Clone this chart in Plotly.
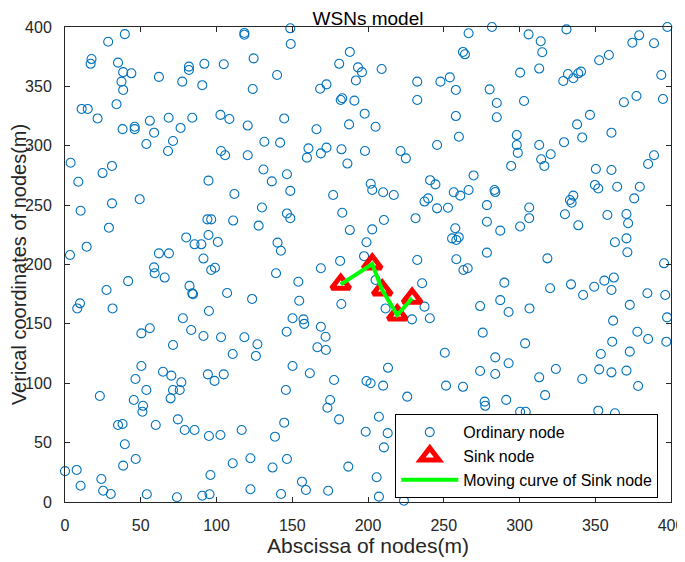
import plotly.graph_objects as go

ordinary = [
(39.5,394),(28.5,387.6),(17.5,373),(16.9,369),(35,370),(38.4,362),(43.8,361),(37.3,354),(38.4,347),(62,358),
(77.4,354),(81.8,366.6),(81.8,363.8),(92,369),(104.8,368.6),(90.6,351),(118.4,395),(118.4,393.5),(124.5,373.6),(123.9,347.8),
(34,335),(11,331),(15,331),(21.5,323),(38,314),(46,316),(46,314),(56,321),(58.8,311),(53.7,301.5),
(68.4,323.6),(76.3,315),(84,323.6),(71.3,304),(68,295.6),(102.6,326),(108.5,322.5),(120.6,317),(131.6,303.4),(103,295.6),
(105.7,292),(120.6,292),(3.7,285.7),(31,283),(24.8,277),(8.8,269.7),(94.7,270.6),(131,280),(136.5,270),
(148.7,398.9),(149,385.7),(188,379),(181,369),(193.4,366),(196,362),(192,355),(209,364.6),(140,359.6),(168.4,348),
(172.6,351.7),(183,340),(182,338.5),(191,338),(232.5,354),(232.5,338.5),(247.8,354),(254,357.6),(258,347),(262.7,379),
(264,377),(266.4,394.7),(144.7,323),(197.8,327),(187.5,318),(205,316),(166,313.9),(258,325),(260,307.6),(245.6,300.6),
(142,302.6),(160.7,297.8),(159.7,290),(168.9,293.6),(172.6,298.4),(182.5,297),(198,295.6),(186.4,285),(221.5,295.6),(225,289.4),
(146.5,276),(201.8,268),(241,271),(244.5,267.5),(269.7,275),
(281.8,400),(306,393.8),(331,398),(314,388),(315,378.7),(313,365),(300.4,361.6),(328.9,354.5),(332,360.4),(335.5,356.8),
(338.8,361),(340.6,362.4),(352.6,372),(359,376.4),(374.5,386.8),(379,393),(388.8,386.3),(397.6,400),(393.6,359.6),(394.7,339.4),
(377.2,341.9),(368.9,336.6),(280.3,347.5),(285,336),(285,324),(303,337.7),(346.5,326),(338,318),(341.4,307),(360.7,311),
(298.2,309),(298.2,300.6),(298.9,294),(313,300.6),(329.4,303),(320.6,292.8),(314.3,288.6),(316.4,283),(294.5,283),(350.4,280.4),
(360.7,279.6),(384.9,284.6),(388.8,292),
(111.8,259.4),(130,248),(49.3,255),(31,251.5),(10.3,245.3),(29,231),(94,238),(96.5,238),(111,237),(127.8,232.7),
(80,222.8),(94.7,224.8),(100.9,219),(85.5,217),(90,217),(91.4,205),(96.5,195.4),(99,197.3),(14.3,215),(3.3,208),
(62,209.4),(68.6,209.4),(58.8,197.6),(59.2,192.6),(65.8,189),(41.7,186),(27.4,178.5),(82.2,182),(84,175.7),(84.5,175),
(107,176),(123.5,171),(9.9,167.3),(8.1,163),(31.4,163),(95,160.8),(77.8,154.7),(83.3,144.8),(50.4,142),(56,146.3),
(91.4,139.8),(103,138.7),(118.4,138.7),(127,132.8),(71.3,132.2),
(126,123),(110.7,124.6),(50.4,114.5),(46.5,103.6),(53.7,94.3),(23,89.3),(45.4,85.9),(51.5,81),(51.1,76),(64.7,109.7),
(70.2,106.4),(76.8,100.8),(71.3,94.3),(75.7,94.3),(69.7,87.3),(94.3,107.5),(104.8,107.5),(98.7,102),(74.5,69.6),(79,60.6),
(85.5,60.6),(95,55.6),(102.6,56.4),(116.6,60.6),(59.9,64.8),(35,64.8),(38,65.7),(39.5,48.6),(46.7,36.2),(38.4,30.6),
(0,26),(7.7,27),(10.3,13.7),(24,19.4),(25.2,9.5),(30.2,6.7),(54,6.5),(73.9,4),(90.6,5.3),(95.4,6.5),
(96,22.7),(110.7,32.6),(122.4,36.8),(122.4,10.7),
(148.7,262),(177,258.5),(202.8,262.7),(210,260.8),(217,258.5),(237.3,253),(239.7,255.7),(245.6,247.3),(252.8,247.8),(256.6,260.8),
(260.9,258),(266.4,262.7),(146.5,243),(148.7,239),(183,243.6),(210.5,237.5),(231.4,239),(188,229),(202.8,229.6),(257.6,230.5),
(255.5,222),(258.3,220.6),(259.9,223),(140.3,218.4),(142.5,211.6),(199,218.7),(197.4,207),(181.6,203),(232.5,203.8),(258.3,204.4),
(263,195.4),(265.8,196.8),(139.3,192.6),(168.9,196.8),(154,185.5),(205,187),(235.7,184.2),(154.6,169.5),(182.4,166.7),(211.6,163),
(237.3,164.5),(150.2,154.7),(157.4,153.8),(157.9,150),(229,153.8),(240.8,154.7),(146.3,143.4),(168.9,147.6),(172,139.2),
(283.5,262.7),(284,261),(278.5,250),(278.5,236),(287.3,228.5),(300.4,232),(306.4,248),(306.4,239),(330,242.3),(333.3,254.3),
(335.5,258),(334.4,252),(338.8,233),(349.8,267),(352,264),(364.5,265.5),(379.4,265.5),(375.7,255.7),(358,241.7),(370.6,242.5),
(371.7,234.7),(363,218.7),(370.6,222),(371.2,210.3),(395.4,201),(278.5,210),(318.4,205.2),(290,184.7),(320.2,180),(334,183.3),
(342,174.3),(349.3,181.3),(356,186.4),(362.3,189),(360.7,178.5),(384.4,175.8),(396.2,174.3),(274,165),(287.3,170),(292.8,160),
(306.6,163),(372.8,166),(361.8,152.7),(397.4,155.5),(377.8,143.4),(384.9,137.3),(275.7,142.6),(303.7,133.6),(361.2,135),(396.9,135),
(166.6,130.3),(172.2,128),(250.7,125.7),(150.2,114.5),(161.6,108.4),(177.6,102.7),(213.2,113),(199,101.9),(201.7,100),(210,98),
(145.8,94.3),(251.5,98),(262.7,97),(225.9,88.7),(175,85.9),(173.2,79.4),(180.9,69.6),(207.2,71.8),(144.7,66.8),(198.5,59.2),
(138.6,55),(210.5,46),(213,58),(146.5,36.2),(137,29),(187,29.8),(205.7,20.8),(156.4,17.1),(159,10.1),(173.7,9.5),
(142.6,6.7),(207.2,4.5),(223.7,1.1),
(372.8,126.6),(353.7,124.6),(284,121.8),(292.8,116.8),(274,110.3),(284,107.8),(313,105),(324,112),(341.4,103.6),(352.6,111.7),
(360.7,109.2),(370.6,110.6),(378.3,97.7),(316.9,90),(291.2,86),(277,84.5),(277.4,81),(300.4,76),(304.1,76),(352,76.9),
(363,74.7),(340,66.5),
]
node_x = [p[0] for p in ordinary]
node_y = [p[1] for p in ordinary]

sink_x = [182, 202.8, 209.4, 219.3, 229.1]
sink_y = [183.3, 200.4, 178.5, 157.5, 171.5]

x_ticks = [0, 50, 100, 150, 200, 250, 300, 350, 400]
y_ticks = [0, 50, 100, 150, 200, 250, 300, 350, 400]

FONT = "Liberation Sans, Arial, sans-serif"
AX = "#262626"

fig = go.Figure()
fig.add_trace(go.Scatter(
    x=node_x, y=node_y, mode="markers", name="Ordinary node",
    marker=dict(symbol="circle-open", size=9, color="#0072BD", line=dict(width=1.1, color="#0072BD")),
    cliponaxis=False))
fig.add_trace(go.Scatter(
    x=sink_x, y=sink_y, mode="markers", name="Sink node",
    marker=dict(symbol="triangle-up-open", size=16, color="#FF0000", line=dict(width=5, color="#FF0000")),
    cliponaxis=False))
fig.add_trace(go.Scatter(
    x=sink_x, y=sink_y, mode="lines", name="Moving curve of Sink node",
    line=dict(color="#00FF00", width=4)))

axis_common = dict(
    showline=True, mirror="ticks", linecolor=AX, linewidth=1,
    ticks="inside", ticklen=5, tickcolor=AX, tickwidth=1,
    showgrid=False, zeroline=False, automargin=False, ticklabeloverflow="allow",
    tickfont=dict(family=FONT, size=16, color=AX),
)
fig.update_layout(
    width=680, height=554,
    margin=dict(l=57, r=17, t=19, b=60),
    paper_bgcolor="white", plot_bgcolor="white",
    title=dict(text="WSNs model", x=0.5, xref="paper", xanchor="center", y=0.993, yanchor="top",
               pad=dict(t=0, b=0), font=dict(family=FONT, size=19, color="black")),
    xaxis=dict(range=[0, 400], tickvals=x_ticks, ticklabelstandoff=9,
               title=dict(text="Abscissa of nodes(m)", font=dict(family=FONT, size=21, color=AX), standoff=0),
               **axis_common),
    yaxis=dict(range=[0, 400], tickvals=y_ticks, ticklabelstandoff=9,
               title=dict(text="Verical coordinates of nodes(m)", font=dict(family=FONT, size=20, color=AX), standoff=0),
               **axis_common),
    legend=dict(x=0.979, xanchor="right", y=0.008, yanchor="bottom",
                bgcolor="white", bordercolor="black", borderwidth=1,
                font=dict(family=FONT, size=16, color="black"),
                itemwidth=57, tracegroupgap=0),
    showlegend=True,
)
fig.write_html("out.html")
